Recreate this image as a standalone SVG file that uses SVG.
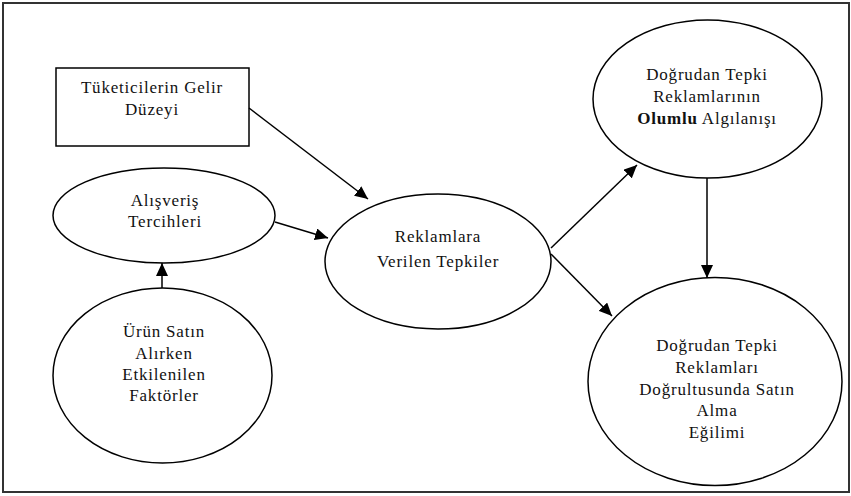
<svg xmlns="http://www.w3.org/2000/svg" width="851" height="496" viewBox="0 0 851 496">
<style>
.shape{fill:#fff;stroke:#000;stroke-width:1.5}
.lbl{font-family:"Liberation Serif","Times New Roman",serif;font-size:17px;letter-spacing:0.8px;fill:#111;text-anchor:middle}
.conn{stroke:#000;stroke-width:1.5;fill:none;marker-end:url(#ah)}
</style>
<defs>
<marker id="ah" markerUnits="userSpaceOnUse" markerWidth="14" markerHeight="12" refX="13" refY="6" orient="auto">
<path d="M0,0 L13,6 L0,12 Z" fill="#000"/>
</marker>
</defs>
<rect x="3" y="3" width="846" height="489" fill="#fff" stroke="#333" stroke-width="2"/>
<g id="gelir">
<rect class="shape" x="56" y="68" width="193" height="78"/>
<text class="lbl" x="152" y="93">Tüketicilerin Gelir</text>
<text class="lbl" x="152" y="115">Düzeyi</text>
</g>
<g id="alisveris">
<ellipse class="shape" cx="164" cy="215.5" rx="111" ry="47.5"/>
<text class="lbl" x="165" y="206">Alışveriş</text>
<text class="lbl" x="165" y="227">Tercihleri</text>
</g>
<g id="urun">
<ellipse class="shape" cx="162.5" cy="375.5" rx="109.5" ry="87.5"/>
<text class="lbl" x="164" y="337">Ürün Satın</text>
<text class="lbl" x="164" y="359">Alırken</text>
<text class="lbl" x="164" y="380">Etkilenilen</text>
<text class="lbl" x="164" y="401">Faktörler</text>
</g>
<g id="reklamlara">
<ellipse class="shape" cx="438" cy="261.5" rx="113" ry="67.5"/>
<text class="lbl" x="438" y="242">Reklamlara</text>
<text class="lbl" x="438" y="267">Verilen Tepkiler</text>
</g>
<g id="olumlu">
<ellipse class="shape" cx="707.5" cy="99" rx="114.5" ry="79"/>
<text class="lbl" x="707" y="80">Doğrudan Tepki</text>
<text class="lbl" x="707" y="102">Reklamlarının</text>
<text class="lbl" x="707" y="124"><tspan font-weight="bold">Olumlu</tspan> Algılanışı</text>
</g>
<g id="egilimi">
<ellipse class="shape" cx="715" cy="381.5" rx="127" ry="104"/>
<text class="lbl" x="717" y="351">Doğrudan Tepki</text>
<text class="lbl" x="717" y="373">Reklamları</text>
<text class="lbl" x="717" y="395">Doğrultusunda Satın</text>
<text class="lbl" x="717" y="416">Alma</text>
<text class="lbl" x="717" y="438">Eğilimi</text>
</g>
<g id="connectors">
<line class="conn" x1="249" y1="108" x2="368" y2="199"/>
<line class="conn" x1="275" y1="222" x2="328" y2="238"/>
<line class="conn" x1="162" y1="288" x2="162" y2="263"/>
<line class="conn" x1="551" y1="248" x2="637" y2="165"/>
<line class="conn" x1="551" y1="254" x2="612" y2="316"/>
<line class="conn" x1="707" y1="178" x2="707" y2="278"/>
</g>
</svg>
